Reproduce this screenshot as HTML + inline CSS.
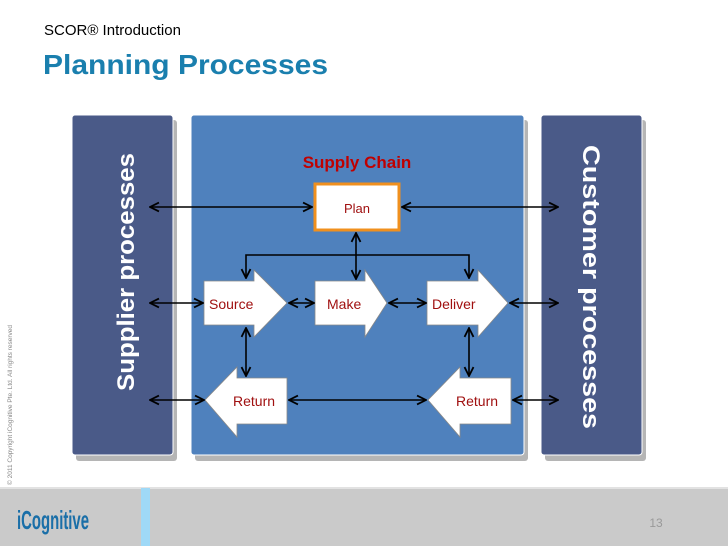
<!DOCTYPE html>
<html><head><meta charset="utf-8"><style>
body{margin:0;width:728px;height:546px;overflow:hidden;background:#fff;font-family:"Liberation Sans",sans-serif}
</style></head><body>
<svg width="728" height="546" viewBox="0 0 728 546" xmlns="http://www.w3.org/2000/svg" font-family="Liberation Sans, sans-serif">
<defs>
<marker id="a" viewBox="0 0 10 10" refX="9" refY="5" markerWidth="7" markerHeight="7" orient="auto-start-reverse"><path d="M1,1 L9,5 L1,9" fill="none" stroke="#000" stroke-width="1.6"/></marker>
</defs>
<text x="44" y="35" font-size="15" fill="#000">SCOR® Introduction</text>
<text x="43" y="74" font-size="28" font-weight="bold" fill="#1a7fae" textLength="285" lengthAdjust="spacingAndGlyphs">Planning Processes</text>
<text transform="translate(12,485) rotate(-90)" font-size="6.5" fill="#888">© 2011 Copyright iCognitive Pte. Ltd. All rights reserved</text>
<!-- shadows -->
<rect x="76" y="120" width="101" height="341" rx="3" fill="#b5b5b5"/>
<rect x="195" y="120" width="333" height="341" rx="3" fill="#b5b5b5"/>
<rect x="545" y="120" width="101" height="341" rx="3" fill="#b5b5b5"/>
<!-- panels -->
<rect x="72" y="115" width="101" height="340" rx="3" fill="#4a5a88" stroke="#fff"/>
<rect x="191" y="115" width="333" height="340" rx="3" fill="#4f81bd" stroke="#fff"/>
<rect x="541" y="115" width="101" height="340" rx="3" fill="#4a5a88" stroke="#fff"/>
<text transform="translate(134,272) rotate(-90)" text-anchor="middle" font-size="24" font-weight="bold" fill="#fff" textLength="238" lengthAdjust="spacingAndGlyphs">Supplier processes</text>
<text transform="translate(583,287) rotate(90)" text-anchor="middle" font-size="24" font-weight="bold" fill="#fff" textLength="284" lengthAdjust="spacingAndGlyphs">Customer processes</text>
<text x="357" y="168" text-anchor="middle" font-size="17" font-weight="bold" fill="#c00000">Supply Chain</text>
<!-- Plan -->
<rect x="315" y="184" width="84" height="46" fill="#fff" stroke="#f0901e" stroke-width="3"/>
<text x="357" y="213" text-anchor="middle" font-size="13" fill="#a01010">Plan</text>
<!-- arrows -->
<g fill="#fff" stroke="#888" stroke-width="0.8">
<path d="M204,281 H254 V270 L287,303 L254,337 V325 H204 Z"/>
<path d="M315,281 H365 V270 L387,303 L365,337 V325 H315 Z"/>
<path d="M427,281 H478 V270 L508,303 L478,337 V325 H427 Z"/>
<path d="M205,400 L237,367 V378 H287 V424 H237 V437 Z"/>
<path d="M428,400 L460,367 V378 H511 V424 H460 V437 Z"/>
</g>
<g font-size="14" fill="#a01010">
<text x="209" y="309">Source</text>
<text x="327" y="309">Make</text>
<text x="432" y="309">Deliver</text>
<text x="233" y="406">Return</text>
<text x="456" y="406">Return</text>
</g>
<!-- connectors -->
<g stroke="#000" stroke-width="1.6" fill="none">
<line x1="150" y1="207" x2="312" y2="207" marker-start="url(#a)" marker-end="url(#a)"/>
<line x1="402" y1="207" x2="558" y2="207" marker-start="url(#a)" marker-end="url(#a)"/>
<line x1="356" y1="233" x2="356" y2="279" marker-start="url(#a)" marker-end="url(#a)"/>
<path d="M246,278 V255 H469 V278" marker-start="url(#a)" marker-end="url(#a)"/>
<line x1="150" y1="303" x2="203" y2="303" marker-start="url(#a)" marker-end="url(#a)"/>
<line x1="289" y1="303" x2="314" y2="303" marker-start="url(#a)" marker-end="url(#a)"/>
<line x1="389" y1="303" x2="426" y2="303" marker-start="url(#a)" marker-end="url(#a)"/>
<line x1="510" y1="303" x2="558" y2="303" marker-start="url(#a)" marker-end="url(#a)"/>
<line x1="246" y1="328" x2="246" y2="376" marker-start="url(#a)" marker-end="url(#a)"/>
<line x1="469" y1="328" x2="469" y2="376" marker-start="url(#a)" marker-end="url(#a)"/>
<line x1="150" y1="400" x2="204" y2="400" marker-start="url(#a)" marker-end="url(#a)"/>
<line x1="289" y1="400" x2="426" y2="400" marker-start="url(#a)" marker-end="url(#a)"/>
<line x1="513" y1="400" x2="558" y2="400" marker-start="url(#a)" marker-end="url(#a)"/>
</g>
<!-- footer -->
<rect x="0" y="488" width="728" height="58" fill="#cacaca"/>
<rect x="0" y="487" width="728" height="2" fill="#e2e2e2"/>
<rect x="141" y="488" width="9" height="58" fill="#9fd9f7"/>
<text x="17" y="529" font-size="26" font-weight="bold" fill="#1a6fa8" textLength="72" lengthAdjust="spacingAndGlyphs">iCognitive</text>
<text x="656" y="527" font-size="12" fill="#999" text-anchor="middle">13</text>
</svg>
</body></html>
